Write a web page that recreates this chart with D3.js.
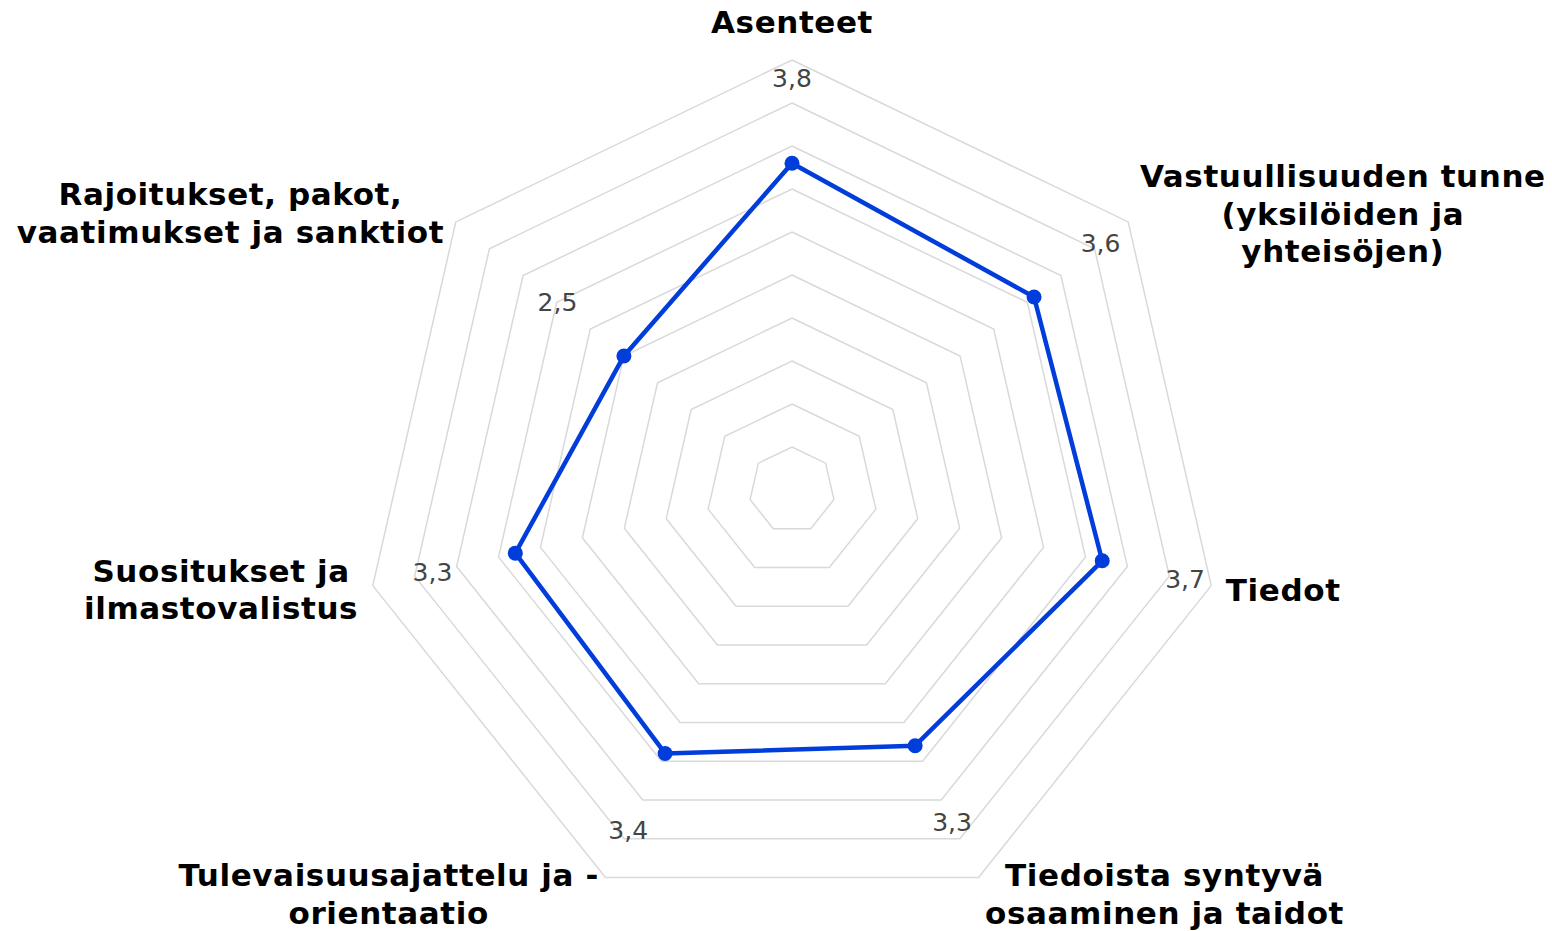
<!DOCTYPE html>
<html>
<head>
<meta charset="utf-8">
<script src="https://cdn.jsdelivr.net/npm/d3@7"></script>
<style>
  html, body { margin: 0; padding: 0; background: #ffffff; }
  svg { display: block; }
</style>
</head>
<body>
<script>

// Axis names (one array of lines per axis), clockwise from the top
var categories = [
    ["Asenteet"],
    ["Vastuullisuuden tunne", "(yksilöiden ja", "yhteisöjen)"],
    ["Tiedot"],
    ["Tiedoista syntyvä", "osaaminen ja taidot"],
    ["Tulevaisuusajattelu ja -", "orientaatio"],
    ["Suositukset ja", "ilmastovalistus"],
    ["Rajoitukset, pakot,", "vaatimukset ja sanktiot"]
];
var values      = [3.8, 3.6, 3.7, 3.3, 3.4, 3.3, 2.5];
var valueLabels = ["3,8", "3,6", "3,7", "3,3", "3,4", "3,3", "2,5"];
var gridLevels  = [0.5, 1, 1.5, 2, 2.5, 3, 3.5, 4, 4.5, 5];
var maxValue    = 5;

window.onload = function() {

    var W       = 1552,
        H       = 931,
        cx      = 792,
        cy      = 490,
        R       = 430,
        n       = categories.length;

    var svg = d3.select("body").append("svg")
        .attr("width",  W)
        .attr("height", H);

    var r = d3.scaleLinear().domain([0, maxValue]).range([0, R]);
    var angle = d3.scaleLinear().domain([0, n]).range([0, 2 * Math.PI]);

    function pt(i, rad) {
        var a = angle(i);
        return [cx + rad * Math.sin(a), cy - rad * Math.cos(a)];
    }

    // concentric rings
    var ring = d3.line().curve(d3.curveLinearClosed);
    svg.append("g")
        .selectAll("path")
        .data(gridLevels)
        .join("path")
        .attr("d", function(v) {
            return ring(d3.range(n).map(function(i) { return pt(i, r(v)); }));
        })
        .attr("fill", "none")
        .attr("stroke", "#d9d9d9")
        .attr("stroke-width", 1.5);

    // data series
    var line = d3.line().curve(d3.curveLinearClosed);
    svg.append("path")
        .attr("d", line(values.map(function(v, i) { return pt(i, r(v)); })))
        .attr("fill", "none")
        .attr("stroke", "#003ddb")
        .attr("stroke-width", 4.5)
        .attr("stroke-linejoin", "round");

    svg.append("g")
        .selectAll("circle")
        .data(values)
        .join("circle")
        .attr("cx", function(v, i) { return pt(i, r(v))[0]; })
        .attr("cy", function(v, i) { return pt(i, r(v))[1]; })
        .attr("r", 7.5)
        .attr("fill", "#003ddb");

    // value labels, out along each axis
    svg.append("g")
        .selectAll("text")
        .data(values)
        .join("text")
        .attr("x", function(v, i) { return pt(i, r(v) + 85)[0]; })
        .attr("y", function(v, i) { return pt(i, r(v) + 85)[1]; })
        .attr("text-anchor", "middle")
        .attr("dominant-baseline", "central")
        .attr("font-family", "'DejaVu Sans', Verdana, sans-serif")
        .attr("font-size", 25)
        .attr("fill", "#444444")
        .text(function(v, i) { return valueLabels[i]; });

    // category labels
    var lineH = 37.5;
    categories.forEach(function(lines, i) {
        var p = pt(i, R + 15);
        var g = svg.append("g");
        var t = g.selectAll("text")
            .data(lines)
            .join("text")
            .attr("text-anchor", "middle")
            .attr("font-family", "'DejaVu Sans', Verdana, sans-serif")
            .attr("font-weight", "bold")
            .attr("font-size", 31)
            .attr("letter-spacing", 0.6)
            .attr("fill", "#000000")
            .attr("y", function(d, k) { return k * lineH; })
            .text(function(d) { return d; });

        var bw = d3.max(t.nodes(), function(nd) { return nd.getComputedTextLength(); });
        var bh = lines.length * lineH;
        var dx = p[0] - cx;
        var left;
        if (Math.abs(dx) < 1)      left = p[0] - bw / 2;
        else if (dx > 0)           left = p[0];
        else                       left = p[0] - bw;
        var top;
        if (i === 0)               top = p[1] - bh;
        else                       top = p[1] - bh / 2;
        // baseline offset of the first line inside its line box
        var base = (i === 0) ? 0.67 : (dx > 0 && Math.abs(dx) > 1 ? 0.82 : 0.8);
        if (i === 3 || i === 4) base = 0.88;
        g.attr("transform", "translate(" + (left + bw / 2) + "," + (top + lineH * base) + ")");
    });
};
</script>
</body>
</html>
